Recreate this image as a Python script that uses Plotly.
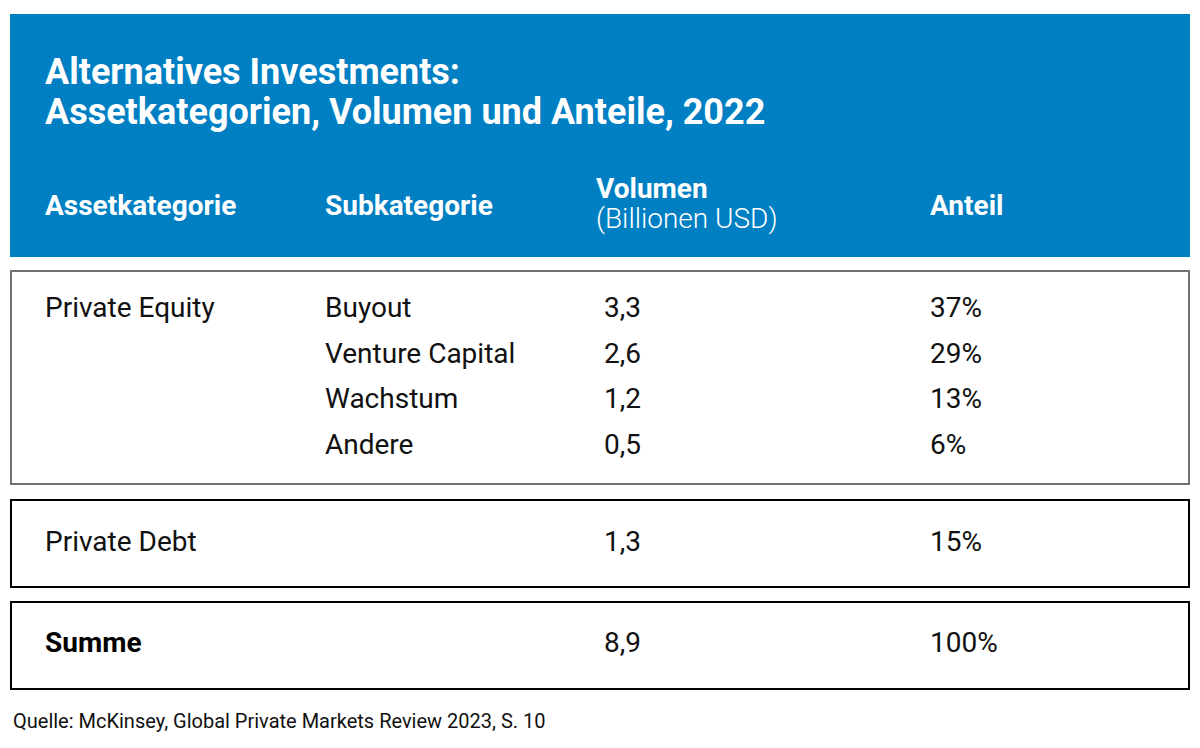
import plotly.graph_objects as go

title_lines = ["Alternatives Investments:", "Assetkategorien, Volumen und Anteile, 2022"]
header_cols = ["Assetkategorie", "Subkategorie", "Volumen", "Anteil"]
header_unit = "(Billionen USD)"

pe_category = "Private Equity"
pe_sub = ["Buyout", "Venture Capital", "Wachstum", "Andere"]
pe_volume = ["3,3", "2,6", "1,2", "0,5"]
pe_share = ["37%", "29%", "13%", "6%"]

debt_category = "Private Debt"
debt_volume = "1,3"
debt_share = "15%"

sum_label = "Summe"
sum_volume = "8,9"
sum_share = "100%"

source = "Quelle: McKinsey, Global Private Markets Review 2023, S. 10"

W, H = 1200, 748
BLUE = "#0080C3"
FONT = "Roboto"
col_x = [45, 325, 596, 930]
num_x = 604
BODY = 28
DY = 3  # vertical text baseline correction

fig = go.Figure()

def txt(xs, ys, texts, size, color, weight="normal"):
    fig.add_trace(go.Scatter(
        x=xs, y=[y + DY for y in ys], text=texts, mode="text", textposition="middle right",
        textfont=dict(family=FONT, size=size, color=color, weight=weight),
        hoverinfo="skip", showlegend=False))

# shapes
fig.add_shape(type="rect", x0=10, x1=1190, y0=14, y1=257, fillcolor=BLUE, line=dict(width=0), layer="below")
fig.add_shape(type="rect", x0=11, x1=1189, y0=271, y1=484, line=dict(color="#707070", width=2))
fig.add_shape(type="rect", x0=11, x1=1189, y0=500, y1=587, line=dict(color="#000000", width=2))
fig.add_shape(type="rect", x0=11, x1=1189, y0=602, y1=689, line=dict(color="#000000", width=2))

# title
txt([45, 45], [72, 112], title_lines, 36, "white", "bold")
# header
txt([col_x[0], col_x[1], col_x[3]], [205, 205, 205],
    [header_cols[0], header_cols[1], header_cols[3]], BODY, "white", "bold")
txt([col_x[2]], [188], [header_cols[2]], BODY, "white", "bold")
txt([col_x[2]], [218], [header_unit], BODY, "white", 300)

# private equity rows
row_y = [307, 353, 398, 444]
txt([col_x[0]], [row_y[0]], [pe_category], BODY, "#111111")
txt([col_x[1]] * 4, row_y, pe_sub, BODY, "#111111")
txt([num_x] * 4, row_y, pe_volume, BODY, "#111111")
txt([col_x[3]] * 4, row_y, pe_share, BODY, "#111111")

# debt
txt([col_x[0]], [541], [debt_category], BODY, "#111111")
txt([num_x, col_x[3]], [541] * 2, [debt_volume, debt_share], BODY, "#111111")
# sum
txt([col_x[0]], [642], [sum_label], BODY, "#000000", "bold")
txt([num_x, col_x[3]], [642] * 2, [sum_volume, sum_share], BODY, "#111111")

# source
txt([13], [720], [source], 20, "#111111")

fig.update_layout(
    width=W, height=H, margin=dict(l=0, r=0, t=0, b=0),
    paper_bgcolor="white", plot_bgcolor="white",
    xaxis=dict(range=[0, W], visible=False, fixedrange=True),
    yaxis=dict(range=[H, 0], visible=False, fixedrange=True),
)
fig.write_html("out.html", config={"displayModeBar": False})

# remove default page margin so the figure sits at the window origin
with open("out.html", "r", encoding="utf-8") as f:
    html = f.read()
html = html.replace("<head>", "<head><style>html,body{margin:0;padding:0;overflow:hidden;}</style>", 1)
with open("out.html", "w", encoding="utf-8") as f:
    f.write(html)
